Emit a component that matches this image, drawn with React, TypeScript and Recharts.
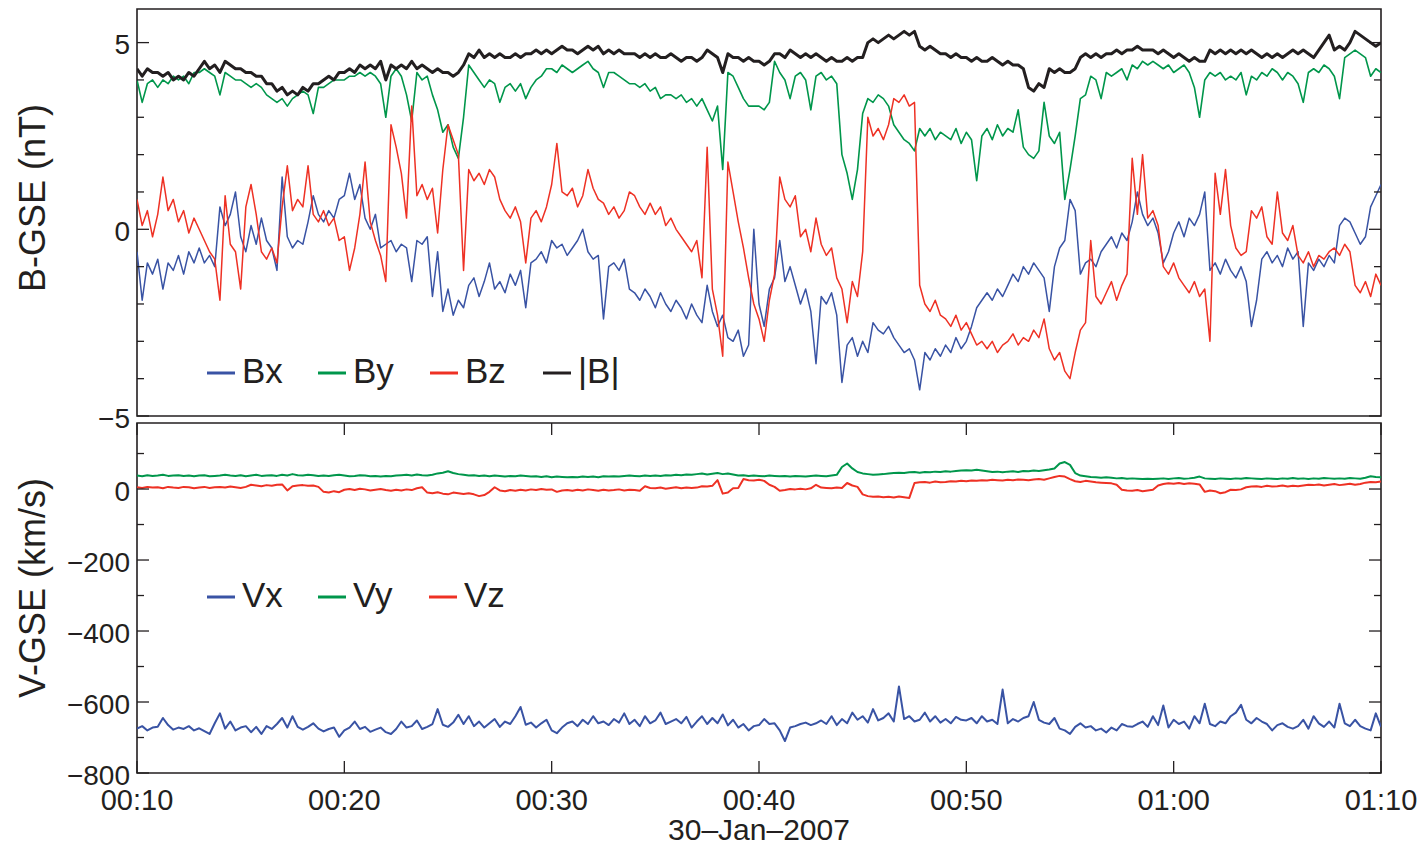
import React from 'react';
import { LineChart, Line, XAxis, YAxis, ReferenceArea } from 'recharts';

// one sample every 15 s, index 0 = 00:10, index 240 = 01:10
const TIME_TICKS = [0, 40, 80, 120, 160, 200, 240];
const TIME_LABELS = ['00:10', '00:20', '00:30', '00:40', '00:50', '01:00', '01:10'];
const DATE_LABEL = '30\u2013Jan\u20132007';

const B_TICKS = [-5, -4, -3, -2, -1, 0, 1, 2, 3, 4, 5];
const B_LABELED = [-5, 0, 5];
const V_TICKS = [-800, -700, -600, -500, -400, -300, -200, -100, 0, 100];
const V_LABELED = [-800, -600, -400, -200, 0];

const B_NAMES = ['Bx', 'By', 'Bz', '|B|'];
const V_NAMES = ['Vx', 'Vy', 'Vz'];

// B-GSE components (nT)
const bx = [
  -0.6, -1.9, -0.9, -1.2, -0.8, -1.6, -0.9, -1.1,
  -0.7, -1.2, -0.6, -0.9, -0.5, -0.9, -0.7, -1.0,
  0.6, 0.1, 0.4, 1.0, -0.2, -0.6, 0.1, -0.4,
  0.3, -0.3, -0.5, -1.1, 1.4, -0.2, -0.5, -0.3,
  -0.4, 0.2, 0.9, 0.4, 0.2, 0.5, 0.3, 0.8,
  0.9, 1.5, 0.8, 1.2, 0.3, 0.0, 0.4, -0.5,
  -0.4, -0.3, -0.6, -0.4, -0.5, -1.4, -0.3, -0.4,
  -0.2, -1.8, -0.6, -2.2, -1.6, -2.3, -1.9, -2.1,
  -1.5, -1.3, -1.8, -1.4, -0.9, -1.6, -1.4, -1.7,
  -1.2, -1.5, -1.1, -2.1, -0.9, -0.8, -0.6, -0.9,
  -0.3, -0.5, -0.4, -0.7, -0.5, -0.3, 0.0, -0.6,
  -0.8, -0.7, -2.4, -1.0, -0.9, -1.1, -0.8, -1.6,
  -1.7, -1.9, -1.6, -1.8, -2.1, -1.7, -2.0, -2.2,
  -1.9, -2.1, -2.4, -2.0, -2.3, -2.5, -1.5, -2.2,
  -2.6, -2.3, -2.9, -3.0, -2.7, -3.4, -3.1, 0.0,
  -2.0, -2.6, -1.6, -1.3, -0.3, -1.4, -1.0, -1.5,
  -2.0, -1.6, -2.2, -3.6, -1.8, -2.0, -1.7, -2.3,
  -4.1, -3.1, -2.9, -3.4, -3.0, -3.3, -2.5, -2.7,
  -2.8, -2.6, -2.9, -3.1, -3.3, -3.2, -3.5, -4.3,
  -3.3, -3.5, -3.2, -3.4, -3.1, -3.3, -2.9, -3.2,
  -3.0, -2.6, -2.1, -1.9, -1.7, -1.9, -1.6, -1.8,
  -1.5, -1.2, -1.4, -1.0, -1.2, -0.9, -1.1, -1.3,
  -2.2, -1.0, -0.5, -0.3, 0.8, 0.5, -1.2, -0.9,
  -0.8, -1.0, -0.6, -0.4, -0.2, -0.5, -0.1, -0.3,
  0.2, 1.0, 0.4, 0.1, 0.3, -0.1, -0.9, -0.6,
  -0.1, 0.2, -0.2, 0.3, 0.1, 0.4, 1.0, -1.1,
  -0.9, -1.2, -0.8, -1.1, -1.3, -1.0, -1.4, -2.6,
  -1.9, -0.8, -0.6, -0.9, -0.7, -1.0, -0.5, -0.8,
  -0.6, -2.6, -0.9, -1.1, -0.8, -1.0, -0.7, -0.9,
  0.1, 0.3, 0.2, -0.1, -0.4, -0.2, 0.6, 0.9,
  1.2,
];

const by = [
  4.0, 3.4, 3.9, 4.0, 3.8, 4.0, 3.9, 4.1,
  4.0, 4.1, 3.9, 4.2, 4.2, 4.3, 4.2, 4.1,
  3.6, 4.2, 4.1, 4.0, 4.0, 3.9, 3.8, 3.9,
  3.8, 3.6, 3.5, 3.4, 3.5, 3.3, 3.5, 3.6,
  3.7, 3.6, 3.1, 3.8, 3.8, 3.9, 4.0, 4.0,
  4.0, 4.1, 4.1, 4.2, 4.1, 4.2, 4.1, 3.9,
  3.0, 4.1, 4.3, 4.1, 3.6, 2.9, 4.2, 4.0,
  4.1, 3.6, 3.2, 2.6, 2.8, 2.2, 1.9, 3.0,
  4.4, 4.2, 4.0, 3.8, 4.0, 3.9, 3.4, 3.8,
  3.9, 3.7, 3.9, 3.5, 3.8, 4.0, 4.1, 4.3,
  4.3, 4.2, 4.4, 4.3, 4.2, 4.3, 4.4, 4.5,
  4.3, 4.2, 3.8, 4.2, 4.2, 4.1, 4.0, 3.9,
  3.9, 3.8, 3.9, 3.7, 3.8, 3.5, 3.6, 3.6,
  3.5, 3.6, 3.4, 3.5, 3.3, 3.5, 3.2, 2.9,
  3.3, 1.6, 4.2, 4.1, 3.8, 3.5, 3.3, 3.3,
  3.3, 3.2, 3.4, 4.5, 4.2, 4.0, 3.5, 4.1,
  4.2, 4.0, 3.2, 4.1, 4.2, 4.0, 4.1, 3.9,
  2.0, 1.5, 0.8, 1.6, 3.1, 3.5, 3.4, 3.6,
  3.5, 3.3, 2.8, 2.6, 2.4, 2.3, 2.1, 2.7,
  2.5, 2.7, 2.4, 2.6, 2.5, 2.4, 2.7, 2.3,
  2.6, 2.4, 1.3, 2.5, 2.7, 2.4, 2.8, 2.5,
  2.7, 2.6, 3.2, 2.2, 2.0, 1.9, 2.1, 3.4,
  2.5, 2.3, 2.6, 0.8, 1.6, 2.5, 3.5, 3.6,
  4.1, 4.0, 3.5, 4.2, 4.1, 4.2, 4.3, 4.0,
  4.4, 4.3, 4.5, 4.4, 4.5, 4.4, 4.3, 4.4,
  4.2, 4.3, 4.4, 4.2, 3.8, 3.0, 4.0, 4.2,
  4.1, 4.2, 4.0, 4.1, 4.0, 4.2, 3.6, 4.1,
  4.0, 4.2, 4.1, 4.3, 4.2, 4.0, 4.2, 4.1,
  3.9, 3.4, 4.2, 4.3, 4.2, 4.4, 4.3, 4.1,
  3.5, 4.6, 4.7, 4.8, 4.7, 4.6, 4.1, 4.3,
  4.2,
];

const bz = [
  0.8, 0.1, 0.5, -0.2, 0.4, 1.4, 0.5, 0.8,
  0.2, 0.5, -0.1, 0.3, 0.0, -0.3, -0.6, -0.8,
  -1.9, 0.9, -0.4, -0.6, -1.6, 0.6, 1.2, 0.4,
  -0.6, -0.8, -0.5, -0.9, 0.6, 1.7, 0.5, 0.8,
  0.6, 1.7, 0.4, 0.2, 0.5, 0.1, 0.3, -0.3,
  -0.2, -1.1, -0.5, 0.4, 1.8, 0.2, -0.3, -0.7,
  -1.4, 2.8, 2.2, 1.5, 0.3, 3.3, 0.9, 1.2,
  0.8, 1.1, -0.1, 1.6, 2.8, 2.4, 2.0, -1.1,
  1.6, 1.3, 1.5, 1.2, 1.6, 1.4, 0.8, 0.5,
  0.3, 0.6, 0.2, -0.9, 0.3, 0.5, 0.2, 0.6,
  1.2, 2.3, 1.0, 0.9, 1.1, 0.6, 0.9, 1.6,
  1.1, 0.8, 0.7, 0.4, 0.6, 0.3, 0.5, 1.0,
  0.9, 0.6, 0.4, 0.7, 0.4, 0.6, 0.1, 0.3,
  0.0, -0.2, -0.4, -0.6, -0.3, -1.3, 2.2, -1.6,
  -2.3, -3.4, 1.8, 1.0, 0.2, -0.5, -1.3, -2.0,
  -2.4, -3.0, -1.9, -1.2, 1.4, 0.8, 0.6, 0.9,
  -0.2, 0.0, -0.6, 0.3, -0.4, -0.7, -0.5, -1.3,
  -1.6, -2.5, -1.4, -1.8, -0.6, 3.0, 2.5, 2.7,
  2.4, 2.8, 3.5, 3.4, 3.6, 3.3, 3.4, -1.5,
  -2.0, -2.2, -1.9, -2.3, -2.4, -2.6, -2.3, -2.7,
  -2.5, -2.8, -3.1, -3.0, -3.2, -3.0, -3.3, -3.1,
  -3.0, -2.8, -3.1, -2.9, -3.0, -2.7, -2.9, -2.4,
  -3.2, -3.5, -3.3, -3.8, -4.0, -3.3, -2.7, -2.5,
  -0.3, -1.8, -2.0, -1.7, -1.4, -1.9, -1.5, -1.2,
  1.9, 0.4, 2.0, 0.3, 0.5, 0.1, -1.0, -1.2,
  -0.9, -1.3, -1.5, -1.7, -1.4, -1.8, -1.6, -3.0,
  1.5, 0.4, 1.6, 0.1, -0.5, -0.7, -0.6, 0.5,
  0.3, 0.6, -0.2, -0.4, 1.0, -0.1, -0.3, 0.1,
  -0.7, -0.9, -0.6, -1.0, -0.7, -0.8, -0.6, -0.5,
  -0.7, -0.4, -0.6, -1.5, -1.7, -1.4, -1.8, -1.2,
  -1.5,
];

const bt = [
  4.3, 4.1, 4.3, 4.2, 4.2, 4.1, 4.2, 4.0,
  4.1, 4.0, 4.2, 4.1, 4.3, 4.5, 4.3, 4.4,
  4.2, 4.5, 4.4, 4.3, 4.3, 4.2, 4.2, 4.1,
  4.1, 3.9, 3.9, 3.7, 3.8, 3.6, 3.7, 3.6,
  3.8, 3.7, 3.9, 3.9, 4.0, 4.1, 4.0, 4.2,
  4.2, 4.3, 4.2, 4.4, 4.3, 4.4, 4.3, 4.5,
  4.0, 4.4, 4.3, 4.4, 4.3, 4.5, 4.3, 4.4,
  4.3, 4.2, 4.3, 4.2, 4.2, 4.1, 4.2, 4.4,
  4.7, 4.6, 4.8, 4.6, 4.7, 4.6, 4.7, 4.6,
  4.6, 4.7, 4.6, 4.7, 4.7, 4.8, 4.7, 4.8,
  4.7, 4.8, 4.9, 4.8, 4.8, 4.7, 4.8, 4.9,
  4.8, 4.9, 4.7, 4.8, 4.7, 4.8, 4.7, 4.7,
  4.7, 4.6, 4.7, 4.6, 4.7, 4.6, 4.6, 4.7,
  4.6, 4.5, 4.6, 4.6, 4.5, 4.6, 4.8, 4.7,
  4.6, 4.2, 4.7, 4.6, 4.6, 4.5, 4.6, 4.5,
  4.5, 4.4, 4.5, 4.7, 4.7, 4.6, 4.8, 4.7,
  4.6, 4.7, 4.6, 4.7, 4.6, 4.5, 4.6, 4.5,
  4.5, 4.6, 4.5, 4.6, 4.6, 5.0, 5.1, 5.0,
  5.1, 5.2, 5.1, 5.2, 5.3, 5.2, 5.3, 4.9,
  4.8, 4.9, 4.8, 4.7, 4.7, 4.6, 4.7, 4.6,
  4.6, 4.5, 4.6, 4.5, 4.5, 4.6, 4.5, 4.4,
  4.5, 4.4, 4.4, 4.3, 3.8, 3.7, 3.9, 3.8,
  4.3, 4.2, 4.3, 4.2, 4.2, 4.3, 4.6, 4.7,
  4.6, 4.7, 4.6, 4.7, 4.7, 4.8, 4.7, 4.8,
  4.8, 4.9, 4.8, 4.8, 4.8, 4.7, 4.8, 4.7,
  4.6, 4.7, 4.6, 4.5, 4.6, 4.5, 4.5, 4.8,
  4.7, 4.8, 4.7, 4.8, 4.7, 4.8, 4.7, 4.8,
  4.7, 4.6, 4.7, 4.6, 4.7, 4.6, 4.7, 4.8,
  4.7, 4.8, 4.7, 4.6, 4.8, 5.0, 5.2, 4.8,
  4.9, 4.8, 5.0, 5.3, 5.2, 5.1, 5.0, 4.9,
  5.0,
];

// V-GSE components (km/s)
const vx = [
  -675, -668, -680, -672, -670, -645, -665, -678,
  -672, -676, -668, -680, -674, -682, -690, -660,
  -632, -675, -655, -680, -672, -668, -685, -670,
  -690, -668, -676, -662, -645, -672, -640, -670,
  -678, -670, -660, -675, -683, -676, -672, -698,
  -680, -672, -655, -676, -670, -684, -678, -672,
  -685, -690, -676, -655, -672, -668, -652, -676,
  -670, -662, -620, -664, -670, -658, -636, -662,
  -640, -668, -655, -672, -660, -648, -670, -655,
  -662, -640, -614, -664, -658, -672, -660, -650,
  -680, -688, -672, -660, -655, -668, -650, -662,
  -640, -660, -655, -665, -648, -658, -632, -662,
  -650, -668, -640, -660, -652, -630, -662, -655,
  -648, -660, -642, -672, -655, -640, -662, -645,
  -660, -635, -666, -650, -672, -662, -680, -668,
  -665, -648, -662, -660, -680, -710, -672, -668,
  -662, -658, -665, -660, -652, -662, -640, -665,
  -648, -660, -630, -650, -640, -658, -620, -652,
  -645, -632, -655, -556, -648, -640, -655, -650,
  -630, -655, -640, -658, -648, -660, -642, -650,
  -652, -645, -660, -640, -655, -650, -662, -565,
  -660, -648, -655, -645, -640, -600, -650, -658,
  -662, -645, -675, -680, -690, -670, -660, -672,
  -668, -680, -675, -686, -672, -680, -662, -668,
  -670, -662, -655, -670, -640, -665, -610, -672,
  -650, -662, -655, -675, -640, -660, -605, -662,
  -668, -655, -660, -640, -630, -608, -650, -660,
  -645, -655, -662, -680, -665, -660, -670, -675,
  -668, -650, -675, -640, -660, -670, -655, -672,
  -605, -660, -668, -650, -668, -675, -680, -632,
  -670,
];

const vy = [
  38, 36, 39, 37, 38, 40, 37, 38,
  39, 37, 38, 36, 38, 39, 36, 37,
  38, 40, 38, 37, 39, 36, 38, 40,
  37, 38, 39, 37, 40, 38, 42, 39,
  38, 40, 39, 37, 38, 37, 39, 40,
  38, 36, 37, 39, 38, 36, 37, 35,
  37, 36, 38, 39, 40, 38, 41, 39,
  38, 40, 44, 46, 50, 45, 42, 40,
  38, 39, 37, 38, 36, 38, 37, 35,
  37, 36, 38, 37, 35, 36, 34, 36,
  33, 35, 34, 33, 34, 33, 35, 34,
  35, 33, 36, 35, 36, 35, 37, 38,
  37, 36, 38, 37, 38, 37, 39, 38,
  40, 39, 41, 40, 42, 44, 41, 43,
  45, 42, 44, 41, 38, 39, 37, 38,
  37, 36, 38, 37, 36, 37, 35, 37,
  36, 35, 37, 38, 37, 36, 38, 40,
  62, 72, 58, 48, 44, 42, 40, 41,
  42, 44, 45, 46, 45, 47, 48, 46,
  48, 47, 49, 48, 50, 49, 51, 52,
  53, 52, 54, 52, 50, 48, 49, 47,
  49, 50, 48, 51, 50, 52, 51, 53,
  55, 58, 72, 76, 68, 45, 38, 36,
  34, 33, 32, 33, 32, 30, 31, 29,
  30, 29, 28, 29, 28, 29, 30, 28,
  30, 31, 29, 30, 32, 35, 30, 29,
  28, 30, 29, 28, 30, 29, 31, 30,
  29, 28, 30, 29, 28, 30, 29, 31,
  29, 30, 28, 30, 29, 31, 30, 29,
  30, 29, 31, 30, 29, 32, 36, 34,
  33,
];

const vz = [
  5, 3, 6, 4, 5, 2, 6, 4,
  3, 6, 5, 2, 4, 6, 3, 5,
  6, 4, 7, 5, 3, 6, 12, 10,
  8, 11, 9, 12, 13, -4, 8, 10,
  11, 9, 10, 6, -8, -10, -6, -9,
  -2, 0, -3, 1, -1, -4, -2, 0,
  -3, -5, -2, -4, -1, -3, 2, 5,
  -10, -12, -9, -13, -15, -10, -12, -14,
  -12, -15, -20, -17, -8, 5, -4, -6,
  -3, -5, -2, -4, -1, -3, 0, -2,
  -1, -8, -4, -3, -5, -2, -4, -1,
  -3, -5, -2, -4, -3, -1, -4, -2,
  -3, -5, 8, 3, 2, 4, 1, 3,
  5, 2, 4, 3, 4, 8, 7, 9,
  25, -13, -10, 2, 3, 28, 25, 24,
  26, 23, 12, 6, -5, -3, 0, -1,
  1, -1, 2, 12, 4, 3, 2, 4,
  3, 17, 10, 6, -15, -20, -22, -21,
  -23, -22, -24, -21, -23, -25, 17, 19,
  20, 18, 21, 19, 20, 22, 21, 23,
  22, 24, 23, 25, 24, 26, 25, 24,
  26, 25, 27, 26, 25, 27, 28, 26,
  30, 34, 37, 35, 28, 22, 20, 23,
  21, 19, 18, 17, 16, 12, -2, -4,
  -5, -3, -6, -4, -2, 10, 14, 16,
  15, 17, 14, 16, 15, 13, -8, -4,
  -6, -12, -9, -2, -3, -1, 5, 7,
  8, 6, 9, 7, 8, 10, 7, 9,
  8, 10, 12, 11, 13, 10, 12, 14,
  11, 13, 15, 12, 14, 18, 20, 19,
  21,
];

const bData = bx.map((v, i) => ({ idx: i, bx: v, by: by[i], bz: bz[i], bt: bt[i] }));
const vData = vx.map((v, i) => ({ idx: i, vx: v, vy: vy[i], vz: vz[i] }));

const FONT = "'Liberation Sans', Arial, Helvetica, sans-serif";
const INK = '#231f20';
const BLUE = '#3953a4';
const GREEN = '#00964b';
const RED = '#ee3124';
const B_COLORS = [BLUE, GREEN, RED, INK];
const V_COLORS = [BLUE, GREEN, RED];

const W = 1421;
const PLOT_W = 1244;
const B_PLOT_H = 407;
const V_PLOT_H = 350;

const fmt = (v: number) => (v < 0 ? '\u2212' + Math.abs(v) : String(v));

// ticks point inward and are repeated on the right side of the box
const yTick = (labeled: number[]) => (props: any) => {
  const { x, y, payload } = props;
  const major = labeled.includes(payload.value);
  const len = major ? 12 : 7;
  return (
    <g>
      <line x1={x} y1={y} x2={x + len} y2={y} stroke={INK} strokeWidth={1.3} />
      <line x1={x + PLOT_W} y1={y} x2={x + PLOT_W - len} y2={y} stroke={INK} strokeWidth={1.3} />
      {major && (
        <text x={x - 7} y={y + 2} textAnchor="end" dominantBaseline="central"
          fontFamily={FONT} fontSize={28} fill={INK}>
          {fmt(payload.value)}
        </text>
      )}
    </g>
  );
};

// x ticks on bottom and top of the box; labels only under the lower panel
const xTick = (plotH: number, withLabel: boolean) => (props: any) => {
  const { x, y, payload } = props;
  const label = TIME_LABELS[TIME_TICKS.indexOf(payload.value)];
  return (
    <g>
      <line x1={x} y1={y} x2={x} y2={y - 12} stroke={INK} strokeWidth={1.3} />
      <line x1={x} y1={y - plotH} x2={x} y2={y - plotH + 12} stroke={INK} strokeWidth={1.3} />
      {withLabel && (
        <text x={x} y={y + 37} textAnchor="middle" fontFamily={FONT} fontSize={29} fill={INK}>
          {label}
        </text>
      )}
    </g>
  );
};

const Legend = ({ names, colors, xs, y }: { names: string[]; colors: string[]; xs: number[]; y: number }) => (
  <g>
    {names.map((n, i) => (
      <g key={n}>
        <line x1={xs[i]} x2={xs[i] + 28} y1={y} y2={y} stroke={colors[i]} strokeWidth={3} />
        <text x={xs[i] + 35} y={y + 10} fontFamily={FONT} fontSize={35} fill={INK}>{n}</text>
      </g>
    ))}
  </g>
);

export default function App() {
  return (
    <div style={{ position: 'relative', width: W, height: 845, background: '#fff' }}>
      <style>{'body{margin:0}'}</style>
      <div style={{ position: 'absolute', left: 0, top: 420 }}>
        <LineChart width={W} height={425} data={vData} margin={{ top: 3, right: 40, bottom: 0, left: 0 }}>
          <XAxis dataKey="idx" type="number" domain={[0, 240]} ticks={TIME_TICKS} interval={0}
            height={72} tickSize={0} tickMargin={0} axisLine={false} tickLine={false}
            tick={xTick(V_PLOT_H, true)} allowDataOverflow />
          <YAxis type="number" domain={[-800, 186]} ticks={V_TICKS} interval={0} width={137}
            tickSize={0} tickMargin={0} axisLine={false} tickLine={false}
            tick={yTick(V_LABELED)} allowDataOverflow />
          <Line dataKey="vx" stroke={BLUE} strokeWidth={2} dot={false} isAnimationActive={false} strokeLinejoin="round" />
          <Line dataKey="vy" stroke={GREEN} strokeWidth={2} dot={false} isAnimationActive={false} strokeLinejoin="round" />
          <Line dataKey="vz" stroke={RED} strokeWidth={2} dot={false} isAnimationActive={false} strokeLinejoin="round" />
          <ReferenceArea x1={0} x2={240} y1={-800} y2={186} fill="none" stroke={INK} strokeWidth={1.6} />
        </LineChart>
      </div>
      <div style={{ position: 'absolute', left: 0, top: 0 }}>
        <LineChart width={W} height={440} data={bData} margin={{ top: 9, right: 40, bottom: 24, left: 0 }}>
          <XAxis dataKey="idx" type="number" domain={[0, 240]} ticks={TIME_TICKS} interval={0}
            height={0} tickSize={0} tickMargin={0} axisLine={false} tickLine={false}
            tick={xTick(B_PLOT_H, false)} allowDataOverflow />
          <YAxis type="number" domain={[-5, 5.9]} ticks={B_TICKS} interval={0} width={137}
            tickSize={0} tickMargin={0} axisLine={false} tickLine={false}
            tick={yTick(B_LABELED)} allowDataOverflow />
          <Line dataKey="bx" stroke={BLUE} strokeWidth={1.5} dot={false} isAnimationActive={false} strokeLinejoin="round" />
          <Line dataKey="by" stroke={GREEN} strokeWidth={1.6} dot={false} isAnimationActive={false} strokeLinejoin="round" />
          <Line dataKey="bz" stroke={RED} strokeWidth={1.5} dot={false} isAnimationActive={false} strokeLinejoin="round" />
          <Line dataKey="bt" stroke={INK} strokeWidth={3} dot={false} isAnimationActive={false} strokeLinejoin="round" />
          <ReferenceArea x1={0} x2={240} y1={-5} y2={5.9} fill="none" stroke={INK} strokeWidth={1.6} />
        </LineChart>
      </div>
      <svg width={W} height={845} style={{ position: 'absolute', left: 0, top: 0, pointerEvents: 'none' }}>
        <text transform="translate(45,198) rotate(-90)" textAnchor="middle" fontFamily={FONT} fontSize={36} fill={INK}>
          B-GSE (nT)
        </text>
        <text transform="translate(45,588) rotate(-90)" textAnchor="middle" fontFamily={FONT} fontSize={36} fill={INK}>
          V-GSE (km/s)
        </text>
        <text x={759} y={840} textAnchor="middle" fontFamily={FONT} fontSize={30} fill={INK}>
          {DATE_LABEL}
        </text>
        <Legend names={B_NAMES} colors={B_COLORS} xs={[207, 318, 430, 543]} y={373} />
        <Legend names={V_NAMES} colors={V_COLORS} xs={[207, 318, 429]} y={597} />
      </svg>
    </div>
  );
}
